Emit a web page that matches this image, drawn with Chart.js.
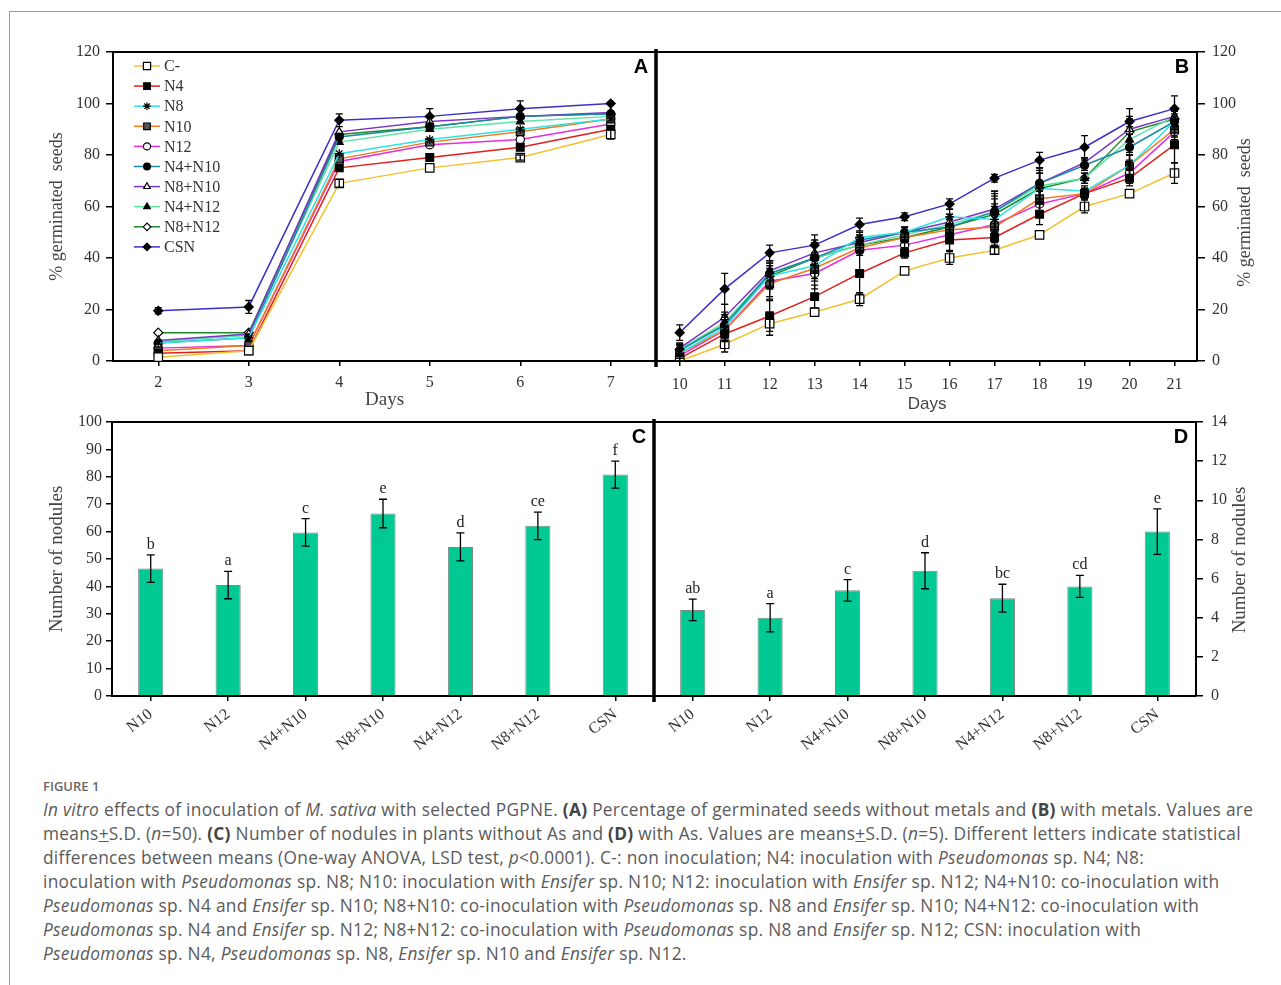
<!DOCTYPE html>
<html>
<head>
<meta charset="utf-8">
<script src="https://cdn.jsdelivr.net/npm/chart.js@4.4.1/dist/chart.umd.min.js"></script>
<style>
  body { margin: 0; background: #fff; width: 1281px; height: 985px; position: relative; overflow: hidden; }
  .frame { position: absolute; left: 9px; top: 11px; width: 1290px; height: 990px; border-top: 1px solid #9a9a9a; border-left: 1px solid #9a9a9a; }
  canvas { position: absolute; }
  #caption { position: absolute; left: 43px; top: 774px; color: #5a5a5a; font-family: "Open Sans", Lato, sans-serif; white-space: nowrap; }
  #caption .fig { font-size: 13px; line-height: 24px; color: #666; font-weight: 600; }
  #caption .txt { font-size: 17.3px; letter-spacing: 0.3px; line-height: 24px; }
  #caption b { color: #444; font-weight: 700; }
</style>
</head>
<body>
<div class="frame"></div>
<canvas id="chartA" width="630" height="380" style="left:40px;top:40px"></canvas>
<canvas id="chartB" width="631" height="380" style="left:650px;top:40px"></canvas>
<canvas id="chartC" width="630" height="350" style="left:40px;top:410px"></canvas>
<canvas id="chartD" width="631" height="350" style="left:650px;top:410px"></canvas>
<div id="caption">
  <div class="fig">FIGURE 1</div>
  <div class="txt"><i>In vitro</i> effects of inoculation of <i>M. sativa</i> with selected PGPNE. <b>(A)</b> Percentage of germinated seeds without metals and <b>(B)</b> with metals. Values are<br>means<u>+</u>S.D. (<i>n</i>=50). <b>(C)</b> Number of nodules in plants without As and <b>(D)</b> with As. Values are means<u>+</u>S.D. (<i>n</i>=5). Different letters indicate statistical<br>differences between means (One-way ANOVA, LSD test, <i>p</i>&lt;0.0001). C-: non inoculation; N4: inoculation with <i>Pseudomonas</i> sp. N4; N8:<br>inoculation with <i>Pseudomonas</i> sp. N8; N10: inoculation with <i>Ensifer</i> sp. N10; N12: inoculation with <i>Ensifer</i> sp. N12; N4+N10: co-inoculation with<br><i>Pseudomonas</i> sp. N4 and <i>Ensifer</i> sp. N10; N8+N10: co-inoculation with <i>Pseudomonas</i> sp. N8 and <i>Ensifer</i> sp. N10; N4+N12: co-inoculation with<br><i>Pseudomonas</i> sp. N4 and <i>Ensifer</i> sp. N12; N8+N12: co-inoculation with <i>Pseudomonas</i> sp. N8 and <i>Ensifer</i> sp. N12; CSN: inoculation with<br><i>Pseudomonas</i> sp. N4, <i>Pseudomonas</i> sp. N8, <i>Ensifer</i> sp. N10 and <i>Ensifer</i> sp. N12.</div>
</div>
<script>
// days on the x axes
const daysA = ['2', '3', '4', '5', '6', '7'];
const daysB = ['10', '11', '12', '13', '14', '15', '16', '17', '18', '19', '20', '21'];

// % germinated seeds, panel A (without metals)
const aCminus = [1.5, 4, 69, 75, 79, 88];
const aN4     = [3, 4, 75, 79, 83, 90];
const aN8     = [7, 9, 80.5, 86, 90, 94];
const aN10    = [4, 6, 78.5, 85, 89, 94];
const aN12    = [5, 6, 77.5, 84, 86, 92];
const aN4N10  = [7, 9, 87, 91, 95, 96];
const aN8N10  = [8, 10.5, 89, 93, 95, 96.5];
const aN4N12  = [7.5, 10, 85, 90, 93, 95];
const aN8N12  = [11, 11, 88, 91, 95, 96];
const aCSN    = [19.5, 21, 93.5, 95, 98, 100];
const aCSNsd    = [1.2, 2.5, 2.5, 3, 3, 0];
const aCminusSd = [0, 0, 1.5, 0, 1, 1.8];

// % germinated seeds, panel B (with metals)
const bCminus = [0, 6.5, 14.5, 19, 24, 35, 40, 43, 49, 60, 65, 73];
const bN4     = [1, 10.5, 17.5, 25, 34, 42, 47, 48, 57, 65, 71, 84];
const bN8     = [3, 13, 33, 37, 48, 50, 56, 55, 67, 66, 76, 93];
const bN10    = [3, 12, 30, 36, 44, 48, 51, 52, 63, 65, 76, 90];
const bN12    = [2, 12, 31, 34, 43, 45, 49, 53, 61, 65, 73, 89];
const bN4N10  = [4, 14, 34, 40, 47, 50, 52, 58, 69, 76, 83, 93];
const bN8N10  = [5, 17, 35, 42, 46, 50, 54, 59, 69, 77, 90, 95];
const bN4N12  = [4.5, 15, 34, 40, 45, 49, 53, 58, 68, 71, 86, 95];
const bN8N12  = [4.5, 14, 33, 40, 45, 48, 52, 57, 67, 71, 89, 94];
const bCSN    = [11, 28, 42, 45, 53, 56, 61, 71, 78, 83, 93, 98];
const bCminusSd = [0, 3, 4.5, 0, 2.5, 0, 2.5, 1.5, 0, 2.5, 0, 4];
const bN4Sd     = [1, 3, 6, 4.5, 8, 2, 4, 2, 4, 2, 3, 7];
const bN8Sd     = [2, 4, 5, 5, 2, 2, 3, 8, 6, 2, 4, 2];
const bN10Sd    = [2, 4, 6, 5, 2, 2, 2, 8, 5, 2, 4, 3];
const bN12Sd    = [2, 3, 6, 6, 2, 2, 3, 8, 5, 2, 4, 3];
const bN4N10Sd  = [2, 4, 5, 5, 2, 2, 3, 8, 6, 2, 5, 3];
const bN8N10Sd  = [2, 5, 4, 5, 2, 2, 3, 7, 6, 2, 5, 3];
const bN4N12Sd  = [2, 4, 5, 6, 2, 2, 3, 7, 6, 2, 5, 3];
const bN8N12Sd  = [2, 4, 5, 6, 2, 2, 3, 7, 6, 2, 5, 3];
const bCSNSd    = [3, 6, 3, 4, 2.5, 1.5, 2, 1.5, 3, 4.5, 5, 5];

// nodules, panels C (without As) and D (with As)
const treatments = ['N10', 'N12', 'N4+N10', 'N8+N10', 'N4+N12', 'N8+N12', 'CSN'];
const nodulesC   = [46.5, 40.5, 59.7, 66.6, 54.4, 62.1, 80.8];
const nodulesCsd = [5, 5, 5, 5.2, 5.1, 5, 4.9];
const lettersC   = ['b', 'a', 'c', 'e', 'd', 'ce', 'f'];
const nodulesD   = [4.4, 4.0, 5.4, 6.4, 5.0, 5.6, 8.4];
const nodulesDsd = [0.55, 0.72, 0.55, 0.92, 0.71, 0.56, 1.16];
const lettersD   = ['ab', 'a', 'c', 'd', 'bc', 'cd', 'e'];

const serif = '"Liberation Serif", "Times New Roman", serif';
const sans = '"Liberation Sans", Arial, sans-serif';

// series look: colour, marker, fill
const styles = [
  { label: 'C-',     color: '#f2c12e', point: 'rect',     fill: '#fff',  r: 6 },
  { label: 'N4',     color: '#e0201c', point: 'rect',     fill: '#000',  r: 5.5 },
  { label: 'N8',     color: '#2fe3e3', point: 'star',     fill: '#000',  r: 4.5 },
  { label: 'N10',    color: '#f07a1e', point: 'rect',     fill: '#555',  r: 5.5 },
  { label: 'N12',    color: '#e62ee0', point: 'circle',   fill: '#fff',  r: 4.2 },
  { label: 'N4+N10', color: '#1b8aa6', point: 'circle',   fill: '#000',  r: 4 },
  { label: 'N8+N10', color: '#7a35c8', point: 'triangle', fill: '#fff',  r: 4.5 },
  { label: 'N4+N12', color: '#5de3a6', point: 'triangle', fill: '#000',  r: 4.5 },
  { label: 'N8+N12', color: '#1f8a2a', point: 'rectRot',  fill: '#fff',  r: 4.5 },
  { label: 'CSN',    color: '#3a2fc8', point: 'rectRot',  fill: '#000',  r: 4.5 }
];

function lineSets(values, errors) {
  return styles.map((s, i) => ({
    label: s.label,
    data: values[i],
    errors: errors[i],
    borderColor: s.color,
    borderWidth: 1.5,
    pointStyle: s.point,
    pointRadius: s.r,
    pointBackgroundColor: s.fill,
    pointBorderColor: '#000',
    pointBorderWidth: 1.2,
    tension: 0,
    fill: false
  }));
}

// outer frame line, thick separator, panel letter, right-side axis title
const panelFrame = {
  id: 'panelFrame',
  afterDraw(chart, args, opts) {
    const { ctx, chartArea: a } = chart;
    ctx.save();
    ctx.strokeStyle = '#000';
    ctx.lineWidth = 2;
    ctx.beginPath();
    ctx.moveTo(a.left, a.top);
    ctx.lineTo(a.right, a.top);
    ctx.stroke();
    if (opts.thick) {
      const x = opts.thick === 'right' ? a.right : a.left;
      ctx.lineWidth = 3.5;
      ctx.beginPath();
      ctx.moveTo(x, a.top - 3);
      ctx.lineTo(x, a.bottom + 6);
      ctx.stroke();
    }
    ctx.fillStyle = '#000';
    ctx.font = 'bold 20px ' + sans;
    ctx.textAlign = 'center';
    ctx.textBaseline = 'middle';
    ctx.fillText(opts.letter, a.right - 15, a.top + 15);
    if (opts.sideTitle) {
      // reads bottom-to-top like the original
      ctx.save();
      ctx.translate(opts.sideTitle.x, (a.top + a.bottom) / 2 + opts.sideTitle.dy);
      ctx.rotate(-Math.PI / 2);
      ctx.fillStyle = '#444';
      ctx.font = opts.sideTitle.size + 'px ' + serif;
      ctx.fillText(opts.sideTitle.text, 0, 0);
      ctx.restore();
    }
    ctx.restore();
  }
};

// vertical error bars (+ optional significance letters)
const errorBars = {
  id: 'errorBars',
  afterDatasetsDraw(chart) {
    const { ctx } = chart;
    const yScale = chart.scales.y;
    chart.data.datasets.forEach((ds, i) => {
      if (!ds.errors) return;
      const meta = chart.getDatasetMeta(i);
      meta.data.forEach((el, j) => {
        const e = ds.errors[j];
        if (!e) return;
        const v = ds.data[j];
        const yTop = yScale.getPixelForValue(v + e);
        const yBot = yScale.getPixelForValue(v - e);
        const cap = chart.config.type === 'bar' ? 4 : 3.5;
        ctx.save();
        ctx.strokeStyle = '#000';
        ctx.lineWidth = 1.3;
        ctx.beginPath();
        ctx.moveTo(el.x, yTop); ctx.lineTo(el.x, yBot);
        ctx.moveTo(el.x - cap, yTop); ctx.lineTo(el.x + cap, yTop);
        ctx.moveTo(el.x - cap, yBot); ctx.lineTo(el.x + cap, yBot);
        ctx.stroke();
        if (ds.letters) {
          ctx.fillStyle = '#222';
          ctx.font = '16px ' + serif;
          ctx.textAlign = 'center';
          ctx.textBaseline = 'alphabetic';
          ctx.fillText(ds.letters[j], el.x, yTop - 6);
        }
        ctx.restore();
      });
    });
  }
};

// legend drawn as line + marker, like the original
const lineLegend = {
  id: 'lineLegend',
  afterDraw(chart, args, opts) {
    if (!opts.show) return;
    const { ctx, chartArea: a } = chart;
    ctx.save();
    chart.data.datasets.forEach((ds, i) => {
      const y = a.top + 14 + i * 20.1;
      const x0 = a.left + 21;
      ctx.strokeStyle = ds.borderColor;
      ctx.lineWidth = 1.5;
      ctx.beginPath();
      ctx.moveTo(x0, y); ctx.lineTo(x0 + 26, y);
      ctx.stroke();
      ctx.fillStyle = ds.pointBackgroundColor;
      ctx.strokeStyle = '#000';
      ctx.lineWidth = 1.2;
      Chart.helpers.drawPoint(ctx, { pointStyle: ds.pointStyle, radius: ds.pointRadius * 0.85, borderWidth: 1.2 }, x0 + 13, y);
      ctx.fillStyle = '#333';
      ctx.font = '16px ' + serif;
      ctx.textAlign = 'left';
      ctx.textBaseline = 'middle';
      ctx.fillText(ds.label, x0 + 30, y + 1);
    });
    ctx.restore();
  }
};

function yAxis(opts) {
  return {
    position: opts.position,
    min: 0,
    max: opts.max,
    ticks: { stepSize: opts.step, color: '#333', font: { family: serif, size: 16 }, padding: opts.tickPad },
    grid: { drawOnChartArea: false, drawTicks: true, tickLength: opts.tickLen, color: '#000', lineWidth: 1.5 },
    border: { color: '#000', width: 2 },
    title: opts.title ? { display: true, text: opts.title, color: '#444', font: { family: serif, size: opts.titleSize }, padding: { top: opts.titlePad } } : { display: false },
    afterFit: s => { s.width = opts.width; s.paddingTop = 0; s.paddingBottom = 0; }
  };
}

function xAxis(opts) {
  return {
    type: 'category',
    offset: true,
    ticks: {
      color: '#333', font: { family: serif, size: opts.tickSize || 16 }, padding: opts.tickPad,
      maxRotation: opts.rot || 0, minRotation: opts.rot || 0, autoSkip: false
    },
    grid: { drawOnChartArea: false, drawTicks: true, tickLength: 5, offset: false, color: '#000', lineWidth: 1.5 },
    border: { color: '#000', width: 2 },
    title: opts.title ? { display: true, text: opts.title, color: '#444', font: opts.titleFont, padding: { bottom: opts.titlePad } } : { display: false },
    afterFit: s => { s.height = opts.height; s.paddingLeft = 0; s.paddingRight = 0; }
  };
}

const common = {
  responsive: false,
  animation: false,
  devicePixelRatio: 1,
  plugins: { legend: { display: false }, tooltip: { enabled: false } }
};

// Panel A
new Chart(document.getElementById('chartA'), {
  type: 'line',
  data: {
    labels: daysA,
    datasets: lineSets(
      [aCminus, aN4, aN8, aN10, aN12, aN4N10, aN8N10, aN4N12, aN8N12, aCSN],
      [aCminusSd, null, null, null, null, null, null, null, null, aCSNsd]
    )
  },
  options: {
    ...common,
    layout: { padding: { top: 12, right: 14, left: 0, bottom: 0 } },
    plugins: { ...common.plugins, panelFrame: { letter: 'A', thick: 'right' }, lineLegend: { show: true } },
    scales: {
      x: xAxis({ height: 59, tickPad: 7, title: 'Days', titleFont: { family: serif, size: 19 }, titlePad: 9 }),
      y: yAxis({ position: 'left', max: 120, step: 20, tickLen: 7, tickPad: 6, width: 73, title: '% germinated  seeds', titleSize: 18, titlePad: 6 })
    }
  },
  plugins: [panelFrame, errorBars, lineLegend]
});

// Panel B
new Chart(document.getElementById('chartB'), {
  type: 'line',
  data: {
    labels: daysB,
    datasets: lineSets(
      [bCminus, bN4, bN8, bN10, bN12, bN4N10, bN8N10, bN4N12, bN8N12, bCSN],
      [bCminusSd, bN4Sd, bN8Sd, bN10Sd, bN12Sd, bN4N10Sd, bN8N10Sd, bN4N12Sd, bN8N12Sd, bCSNSd]
    )
  },
  options: {
    ...common,
    layout: { padding: { top: 12, right: 0, left: 6, bottom: 0 } },
    plugins: {
      ...common.plugins,
      panelFrame: { letter: 'B', sideTitle: { text: '% germinated  seeds', size: 18, x: 595, dy: 6 } },
      lineLegend: { show: false }
    },
    scales: {
      x: xAxis({ height: 59, tickPad: 9, title: 'Days', titleFont: { family: sans, size: 17 }, titlePad: 5 }),
      y: yAxis({ position: 'right', max: 120, step: 20, tickLen: 8, tickPad: 7, width: 84 })
    }
  },
  plugins: [panelFrame, errorBars, lineLegend]
});

function barSet(values, errors, letters) {
  return [{
    data: values,
    errors: errors,
    letters: letters,
    backgroundColor: '#00c994',
    borderColor: '#7a8a84',
    borderWidth: 1,
    barPercentage: 0.325,
    categoryPercentage: 1
  }];
}

// Panel C
new Chart(document.getElementById('chartC'), {
  type: 'bar',
  data: { labels: treatments, datasets: barSet(nodulesC, nodulesCsd, lettersC) },
  options: {
    ...common,
    layout: { padding: { top: 12, right: 16, left: 0, bottom: 0 } },
    plugins: { ...common.plugins, panelFrame: { letter: 'C', thick: 'right' } },
    scales: {
      x: xAxis({ height: 64, tickPad: 4, rot: 38, tickSize: 16 }),
      y: yAxis({ position: 'left', max: 100, step: 10, tickLen: 6, tickPad: 4, width: 72, title: 'Number of nodules', titleSize: 19, titlePad: 6 })
    }
  },
  plugins: [panelFrame, errorBars]
});

// Panel D
new Chart(document.getElementById('chartD'), {
  type: 'bar',
  data: { labels: treatments, datasets: barSet(nodulesD, nodulesDsd, lettersD) },
  options: {
    ...common,
    layout: { padding: { top: 12, right: 0, left: 4, bottom: 0 } },
    plugins: {
      ...common.plugins,
      panelFrame: { letter: 'D', sideTitle: { text: 'Number of nodules', size: 19, x: 590, dy: 1 } }
    },
    scales: {
      x: xAxis({ height: 64, tickPad: 4, rot: 38, tickSize: 16 }),
      y: yAxis({ position: 'right', max: 14, step: 2, tickLen: 7, tickPad: 8, width: 85 })
    }
  },
  plugins: [panelFrame, errorBars]
});
</script>
</body>
</html>
